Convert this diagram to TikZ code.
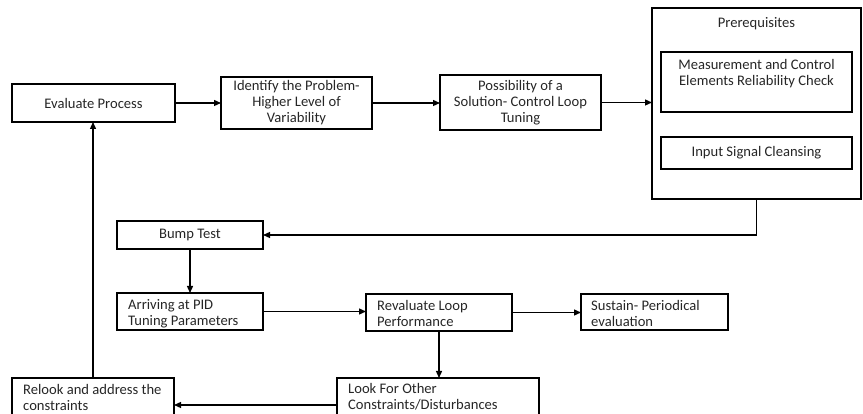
\documentclass[tikz,border=0pt]{standalone}
\usepackage{fontspec}
\setmainfont{Carlito}
\usetikzlibrary{arrows.meta}
\tikzset{
  box/.style={draw, line width=1.3pt, anchor=north west, inner sep=0pt, outer sep=0pt},
  lbl/.style={font=\fontsize{14.6}{16}\selectfont, inner sep=0pt, text=black!85},
  ctr/.style={lbl, align=center},
  lft/.style={lbl, align=left, anchor=north west},
  arr/.style={line width=1.3pt, -{Triangle[length=7pt,width=6pt]}},
  ln/.style={line width=1.3pt}
}
\begin{document}
\begin{tikzpicture}[x=1pt,y=-1pt]
\useasboundingbox (0,0) rectangle (863,414);
\clip (0,0) rectangle (863,414);
% boxes
\node[box, minimum width=163, minimum height=38] (eval) at (12,84) {};
\node[box, minimum width=151, minimum height=52] (ident) at (221,77) {};
\node[box, minimum width=161, minimum height=55] (poss) at (440,75) {};
\node[box, minimum width=209, minimum height=191] (prereq) at (652,8) {};
\node[box, minimum width=191, minimum height=60] (meas) at (661,52) {};
\node[box, minimum width=191, minimum height=32] (input) at (661,137) {};
\node[box, minimum width=146, minimum height=28] (bump) at (117,221) {};
\node[box, minimum width=146, minimum height=37] (pid) at (117,293) {};
\node[box, minimum width=146, minimum height=37] (rev) at (366,294) {};
\node[box, minimum width=147, minimum height=36] (sus) at (581,294) {};
\node[box, minimum width=202, minimum height=54] (look) at (337,378) {};
\node[box, minimum width=162, minimum height=54] (relook) at (12,378) {};
% texts
\node[ctr] (teval) at (eval.center) {Evaluate Process};
\node[ctr] (tident) at (ident.center) {Identify the Problem-\\Higher Level of\\Variability};
\node[ctr] (tposs) at (poss.center) {Possibility of a\\Solution- Control Loop\\Tuning};
\node[ctr, anchor=north] (tpre) at ([yshift=-9pt]prereq.north) {Prerequisites};
\node[ctr, anchor=north] (tmeas) at ([yshift=-7pt]meas.north) {Measurement and Control\\Elements Reliability Check};
\node[ctr] (tinput) at (input.center) {Input Signal Cleansing};
\node[ctr] (tbump) at (bump.center) {Bump Test};
\node[lft] (tpid) at ([xshift=11pt,yshift=-6pt]pid.north west) {Arriving at PID\\Tuning Parameters};
\node[lft] (trev) at ([xshift=11pt,yshift=-6pt]rev.north west) {Revaluate Loop\\Performance};
\node[lft] (tsus) at ([xshift=10pt,yshift=-6pt]sus.north west) {Sustain- Periodical\\evaluation};
\node[lft] (tlook) at ([xshift=11pt,yshift=-5pt]look.north west) {Look For Other\\Constraints/Disturbances};
\node[lft] (trelook) at ([xshift=11pt,yshift=-6pt]relook.north west) {Relook and address the\\constraints};
% connectors
\draw[arr] (eval.east) -- (eval.east -| ident.west);
\draw[arr] (ident.east) -- (ident.east -| poss.west);
\draw[arr] (poss.east) -- (poss.east -| prereq.west);
\draw[arr] (prereq.south) |- (bump.east);
\draw[arr] (bump.south) -- (pid.north);
\draw[arr] (pid.east) -- (pid.east -| rev.west);
\draw[arr] (rev.east) -- (rev.east -| sus.west);
\draw[arr] (rev.south) -- (rev.south |- look.north);
\draw[arr] (look.west) -- (look.west -| relook.east);
\draw[arr] (relook.north) -- (relook.north |- eval.south);
\end{tikzpicture}
\end{document}
